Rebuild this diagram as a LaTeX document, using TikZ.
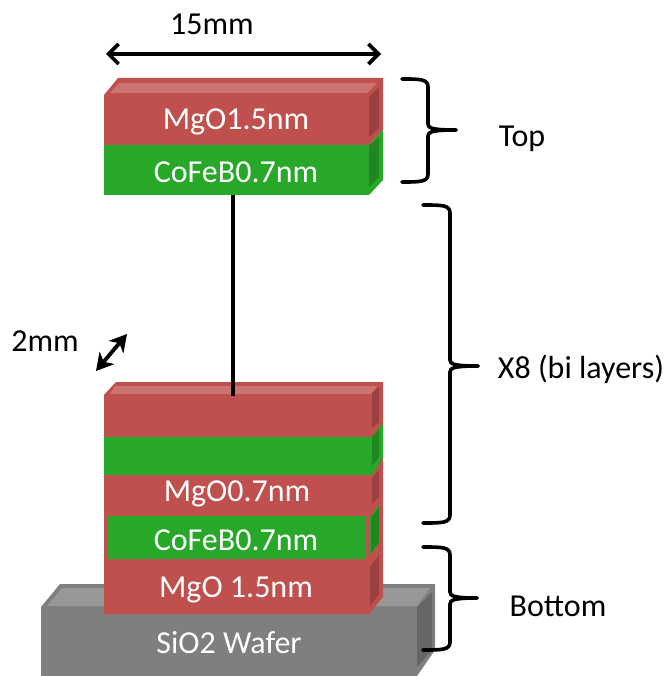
\documentclass[tikz,border=0pt]{standalone}
\usepackage{fontspec}
\setmainfont{Carlito}
\usetikzlibrary{arrows.meta}
\definecolor{oxide}{HTML}{C0504D}
\definecolor{oxidetop}{HTML}{CD7371}
\definecolor{oxideside}{HTML}{9A403E}
\definecolor{metal}{HTML}{28A828}
\definecolor{metalside}{HTML}{208620}
\definecolor{wafer}{HTML}{7F7F7F}
\definecolor{wafertop}{HTML}{989898}
\definecolor{waferside}{HTML}{666666}
\tikzstyle{layer} = [rectangle, inner sep=0pt]
\tikzstyle{layertext} = [inner sep=0pt, text=white, font=\fontsize{32}{32}\selectfont]
\tikzstyle{label} = [inner sep=0pt, text=black, font=\fontsize{32}{32}\selectfont]
\tikzstyle{measure} = [line width=3.6pt, {Straight Barb[length=10pt,width=20pt,line width=3.6pt]}-{Straight Barb[length=10pt,width=20pt,line width=3.6pt]}]
\tikzstyle{smallmeasure} = [line width=3.8pt, {Stealth[length=17pt,width=19pt,inset=5pt]}-{Stealth[length=17pt,width=19pt,inset=5pt]}]
\tikzstyle{bracket} = [line width=3.6pt, line cap=round, black]
\tikzstyle{wire} = [line width=3.2pt, black]
% brace: start x, spine x, tip x, top y, middle y, bottom y
\newcommand{\drawbrace}[6]{
    \draw[bracket] (#1,#4) .. controls (#2-8,#4) and (#2,#4) .. (#2,#4+8) -- (#2,#5-6) .. controls (#2,#5-2) and (#2+4,#5) .. (#3,#5);
    \draw[bracket] (#3,#5) .. controls (#2+4,#5) and (#2,#5+2) .. (#2,#5+6) -- (#2,#6-8) .. controls (#2,#6) and (#2-8,#6) .. (#1,#6);
}
\begin{document}
\begin{tikzpicture}[x=1pt,y=-1pt]
    \useasboundingbox (0,0) rectangle (666,676);

    % wafer
    \fill[wafer] (41,607) -- (60,584) -- (435,584) -- (435,650) -- (417,676) -- (41,676) -- cycle;
    \fill[wafertop] (47,606) -- (62,588) -- (430,588) -- (417,606) -- cycle;
    \fill[waferside] (417,607) -- (432,592) -- (432,650) -- (417,667) -- cycle;
    \node[layer,fill=wafer,minimum width=376pt,minimum height=69pt] (wafer) at (229,641.5) {};
    \node[layertext] (waferlabel) at (229,643) {SiO2 Wafer};

    % lower stack
    \fill[oxide] (104,395) -- (116,382) -- (383,382) -- (383,597) -- (369,614) -- (104,614) -- cycle;
    \fill[oxidetop] (110,394) -- (115,386) -- (377,386) -- (371,394) -- cycle;
    \fill[oxideside] (372,393) -- (379,387) -- (379,422) -- (372,428) -- cycle;
    \fill[oxideside] (372,478) -- (379,470) -- (379,497) -- (372,504) -- cycle;
    \fill[oxideside] (370,567) -- (379,555) -- (379,594) -- (370,606) -- cycle;
    \fill[metal] (372,437) -- (383,423) -- (383,458) -- (372,475) -- cycle;
    \fill[metalside] (372,437) -- (379,429) -- (379,457) -- (372,466) -- cycle;
    \fill[metal] (370,517) -- (379,505) -- (379,543) -- (370,555) -- cycle;
    \fill[metalside] (371,517) -- (379,507) -- (379,542) -- (371,553) -- cycle;
    \node[layer,fill=metal,minimum width=268pt,minimum height=38pt] (midcofeb) at (238,456) {};
    \node[layertext] (midmgolabel) at (237,494) {MgO0.7nm};
    \node[layer,fill=metal,minimum width=258pt,minimum height=43pt] (lowcofeb) at (237,537.5) {};
    \node[layertext] (lowcofeblabel) at (236,540) {CoFeB0.7nm};
    \node[layertext] (lowmgolabel) at (236,590) {MgO 1.5nm};

    % top stack
    \fill[oxide] (104,95) -- (118,78) -- (383,78) -- (383,130) -- (369,145) -- (104,145) -- cycle;
    \fill[oxidetop] (110,93) -- (119,83) -- (377,83) -- (367,93) -- cycle;
    \fill[oxideside] (369,97) -- (379,87) -- (379,128) -- (369,137) -- cycle;
    \fill[metal] (369,145) -- (383,130) -- (383,180) -- (369,195) -- cycle;
    \fill[metalside] (369,145) -- (379,137) -- (379,177) -- (369,187) -- cycle;
    \node[layer,fill=oxide,minimum width=265pt,minimum height=50pt] (topmgo) at (236.5,120) {};
    \node[layer,fill=metal,minimum width=265pt,minimum height=50pt] (topcofeb) at (236.5,170) {};
    \node[layertext] (topmgolabel) at (236,122) {MgO1.5nm};
    \node[layertext] (topcofeblabel) at (236,172.5) {CoFeB0.7nm};

    % connector between the stacks
    \coordinate (wiretop) at (233,195);
    \coordinate (wirebottom) at (233,396);
    \draw[wire] (wiretop) -- (wirebottom);

    % sizes
    \coordinate (widthleft) at (106,54);
    \coordinate (widthright) at (381,54);
    \draw[measure] (widthleft) -- (widthright);
    \node[label] (widthlabel) at (212,24) {15mm};
    \coordinate (depthfront) at (96,371);
    \coordinate (depthback) at (127,334);
    \draw[smallmeasure] (depthfront) -- (depthback);
    \node[label] (depthlabel) at (45,341) {2mm};

    % braces
    \drawbrace{402}{428}{456}{79}{130}{182}
    \drawbrace{423}{450}{478}{205}{366}{523}
    \drawbrace{423}{450}{477}{547}{598}{650}
    \node[label] (toplabel) at (522,139) {Top};
    \node[label] (bilabel) at (581,369) {X8 (bi layers)};
    \node[label] (bottomlabel) at (558,606) {Bottom};

\end{tikzpicture}
\end{document}
